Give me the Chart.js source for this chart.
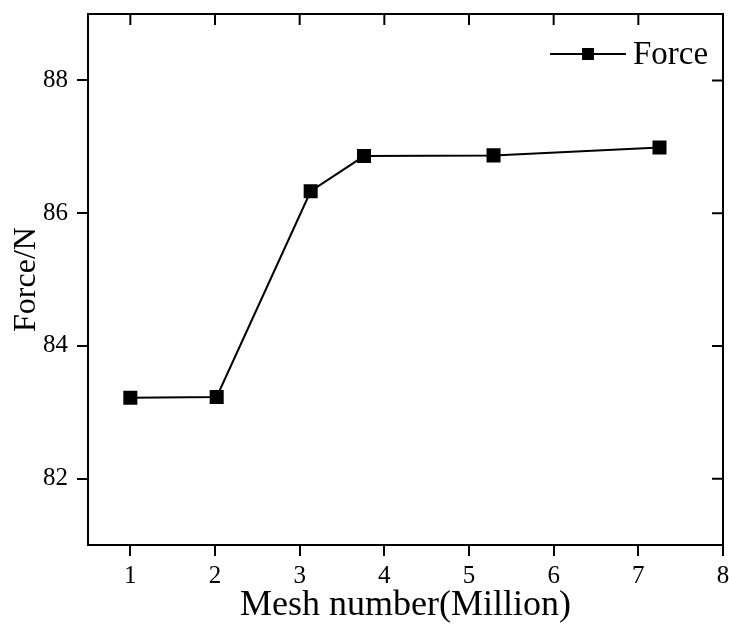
<!DOCTYPE html>
<html>
<head>
<meta charset="utf-8">
<script src="https://cdn.jsdelivr.net/npm/chart.js@4/dist/chart.umd.min.js"></script>
<style>
body { margin: 0; background: #fff; }
#wrap { width: 729px; height: 628px; position: relative; }
</style>
</head>
<body>
<div id="wrap"><canvas id="canvas1"></canvas></div>
<script>
"use strict";
//data
let meshNumber = [1.0, 2.02, 3.13, 3.76, 5.29, 7.25];
let forceValues = [83.22, 83.23, 86.33, 86.86, 86.87, 86.99];
let xTicks = [1, 2, 3, 4, 5, 6, 7, 8];
let yTicks = [82, 84, 86, 88];
let seriesLabel = "Force";
let xTitle = "Mesh number(Million)";
let yTitle = "Force/N";

{
    let canvas1 = document.querySelector("#canvas1");
    let fontFamily = "'Liberation Serif', 'Times New Roman', serif";

    //frame + inward ticks on top/right + legend
    let framePlugin = {
        id: "frame",
        afterDraw(chart)
        {
            let ctx = chart.ctx;
            let a = chart.chartArea;
            let xs = chart.scales.x;
            let ys = chart.scales.y;
            ctx.save();
            ctx.strokeStyle = "#000";
            ctx.lineWidth = 2;
            ctx.beginPath();
            ctx.moveTo(a.left, a.top);
            ctx.lineTo(a.right, a.top);
            ctx.lineTo(a.right, a.bottom);
            ctx.stroke();
            ctx.beginPath();
            for (let v of xTicks)
            {
                let px = xs.getPixelForValue(v);
                ctx.moveTo(px, a.top);
                ctx.lineTo(px, a.top + 11);
            }
            for (let v of yTicks)
            {
                let py = ys.getPixelForValue(v);
                ctx.moveTo(a.right, py);
                ctx.lineTo(a.right - 11, py);
            }
            ctx.stroke();

            //legend
            let ly = 54;
            ctx.beginPath();
            ctx.moveTo(550, ly);
            ctx.lineTo(626, ly);
            ctx.stroke();
            ctx.fillStyle = "#000";
            ctx.fillRect(588 - 6, ly - 6, 12, 12);
            ctx.font = "33px " + fontFamily;
            ctx.textBaseline = "middle";
            ctx.textAlign = "left";
            ctx.fillText(seriesLabel, 633, ly + 1);
            ctx.restore();
        }
    };

    //opts
    let opts = {
        type: "line",
        data: {
            datasets: [{
                label: seriesLabel,
                data: meshNumber.map((x, i) => ({ x: x, y: forceValues[i] })),
                borderColor: "#000",
                backgroundColor: "#000",
                borderWidth: 2,
                pointStyle: "rect",
                pointRadius: 8.5,
                pointHoverRadius: 8.5,
                tension: 0,
            }]
        },
        options: {
            responsive: false,
            animation: false,
            layout: { autoPadding: false, padding: { left: 0, right: 6, top: 14, bottom: 0 } },
            plugins: {
                legend: { display: false },
                tooltip: { enabled: false },
            },
            scales: {
                x: {
                    type: "linear",
                    min: 0.5,
                    max: 8,
                    afterBuildTicks: s => { s.ticks = xTicks.map(v => ({ value: v })); },
                    afterFit: s => { s.height = 83; s.paddingLeft = 0; s.paddingRight = 0; },
                    border: { display: true, color: "#000", width: 2 },
                    grid: { drawOnChartArea: false, color: "#000", lineWidth: 2, tickLength: 11 },
                    ticks: { color: "#000", font: { family: fontFamily, size: 25 }, padding: 5 },
                    title: {
                        display: true, text: xTitle, color: "#000",
                        font: { family: fontFamily, size: 36 },
                        padding: { top: 0, bottom: 1 },
                    },
                },
                y: {
                    type: "linear",
                    min: 81,
                    max: 89,
                    afterBuildTicks: s => { s.ticks = yTicks.map(v => ({ value: v })); },
                    afterFit: s => { s.width = 88; s.paddingTop = 0; s.paddingBottom = 0; },
                    border: { display: true, color: "#000", width: 2 },
                    grid: { drawOnChartArea: false, color: "#000", lineWidth: 2, tickLength: 11 },
                    ticks: { color: "#000", font: { family: fontFamily, size: 25 }, padding: 9 },
                    title: {
                        display: true, text: yTitle, color: "#000",
                        font: { family: fontFamily, size: 32 },
                        padding: { top: 7, bottom: 0 },
                    },
                },
            },
        },
        plugins: [framePlugin],
    };

    canvas1.width = 729;
    canvas1.height = 628;
    let c1 = new Chart(canvas1, opts);
}
</script>
</body>
</html>
